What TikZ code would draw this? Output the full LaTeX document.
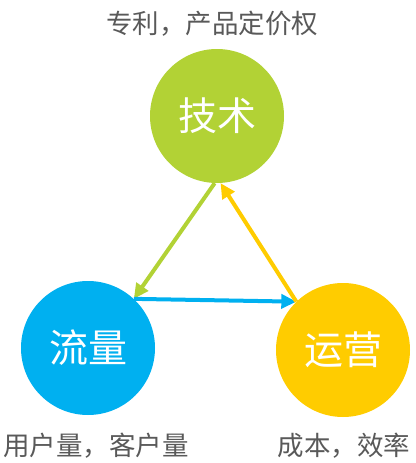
\documentclass[tikz,border=0pt]{standalone}
\usepackage{fontspec}
\setmainfont{Noto Sans CJK SC}
\usetikzlibrary{arrows.meta}
\definecolor{cgreen}{HTML}{B2D235}
\definecolor{cblue}{HTML}{00B0F0}
\definecolor{cyellow}{HTML}{FFCC00}
\definecolor{cgray}{HTML}{595959}
\tikzset{
  ball/.style={circle,minimum size=134pt,inner sep=0pt,text=white,font=\fontsize{39}{39}\selectfont},
  lbl/.style={text=cgray,font=\fontsize{26.5}{26.5}\selectfont,inner sep=0pt},
  conn/.style={line width=4pt,-{Triangle[length=15pt,width=14pt]}}
}
\begin{document}
\begin{tikzpicture}[x=1pt,y=-1pt]
\useasboundingbox (0,0) rectangle (415,463);
\node[ball,fill=cgreen] (g) at (217,116) {技术};
\node[ball,fill=cblue] (b) at (88,348) {流量};
\node[ball,fill=cyellow] (y) at (343,350) {运营};
\node[lbl] (tg) at (212,24) {专利，产品定价权};
\node[lbl] (tb) at (96,446) {用户量，客户量};
\node[lbl] (ty) at (344,446) {成本，效率};
\draw[conn,cgreen] (g.-92) -- (b.47);
\draw[conn,cblue] (b.47) -- (y.134);
\draw[conn,cyellow] (y.134) -- (g.-87);
\end{tikzpicture}
\end{document}
